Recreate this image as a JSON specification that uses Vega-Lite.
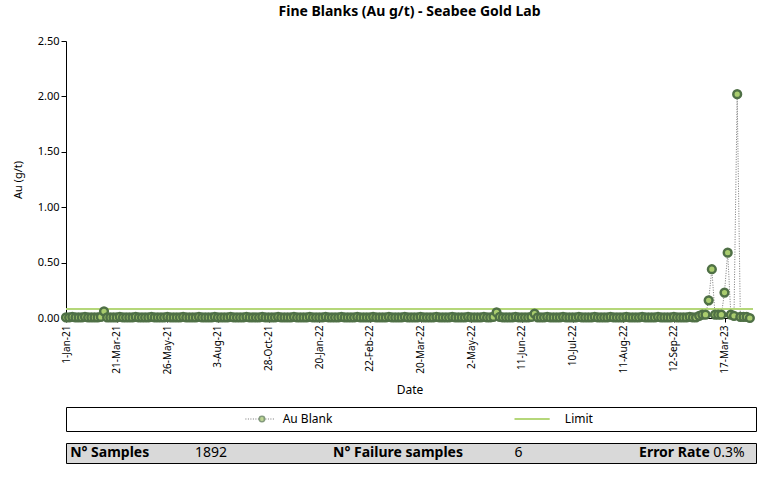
{
"$schema":"https://vega.github.io/schema/vega-lite/v6.json",
"background":"white",
"padding":{"left":12,"right":8,"top":5,"bottom":2},
"spacing":10,
"config":{"font":"Noto Sans","view":{"stroke":null},"axis":{"labelFont":"Noto Sans","titleFont":"Noto Sans","titleFontWeight":"normal","labelColor":"#000","titleColor":"#000","domainColor":"#000","tickColor":"#000"}},
"datasets":{
"blank":[
{"i":0,"v":0.005},{"i":1,"v":0.005},{"i":2,"v":0.01},{"i":3,"v":0.005},{"i":4,"v":0.005},{"i":5,"v":0.005},{"i":6,"v":0.01},{"i":7,"v":0.005},{"i":8,"v":0.005},{"i":9,"v":0.005},{"i":10,"v":0.005},{"i":11,"v":0.01},{"i":12,"v":0.06},{"i":13,"v":0.005},{"i":14,"v":0.005},{"i":15,"v":0.005},{"i":16,"v":0.005},{"i":17,"v":0.01},{"i":18,"v":0.005},{"i":19,"v":0.005},
{"i":20,"v":0.005},{"i":21,"v":0.005},{"i":22,"v":0.01},{"i":23,"v":0.005},{"i":24,"v":0.005},{"i":25,"v":0.005},{"i":26,"v":0.005},{"i":27,"v":0.01},{"i":28,"v":0.005},{"i":29,"v":0.005},{"i":30,"v":0.005},{"i":31,"v":0.005},{"i":32,"v":0.01},{"i":33,"v":0.005},{"i":34,"v":0.005},{"i":35,"v":0.005},{"i":36,"v":0.005},{"i":37,"v":0.01},{"i":38,"v":0.005},{"i":39,"v":0.005},
{"i":40,"v":0.005},{"i":41,"v":0.005},{"i":42,"v":0.01},{"i":43,"v":0.005},{"i":44,"v":0.005},{"i":45,"v":0.005},{"i":46,"v":0.005},{"i":47,"v":0.01},{"i":48,"v":0.005},{"i":49,"v":0.005},{"i":50,"v":0.005},{"i":51,"v":0.005},{"i":52,"v":0.01},{"i":53,"v":0.005},{"i":54,"v":0.005},{"i":55,"v":0.005},{"i":56,"v":0.005},{"i":57,"v":0.01},{"i":58,"v":0.005},{"i":59,"v":0.005},
{"i":60,"v":0.005},{"i":61,"v":0.005},{"i":62,"v":0.01},{"i":63,"v":0.005},{"i":64,"v":0.005},{"i":65,"v":0.005},{"i":66,"v":0.005},{"i":67,"v":0.01},{"i":68,"v":0.005},{"i":69,"v":0.005},{"i":70,"v":0.005},{"i":71,"v":0.005},{"i":72,"v":0.01},{"i":73,"v":0.005},{"i":74,"v":0.005},{"i":75,"v":0.005},{"i":76,"v":0.005},{"i":77,"v":0.01},{"i":78,"v":0.005},{"i":79,"v":0.005},
{"i":80,"v":0.005},{"i":81,"v":0.005},{"i":82,"v":0.01},{"i":83,"v":0.005},{"i":84,"v":0.005},{"i":85,"v":0.005},{"i":86,"v":0.005},{"i":87,"v":0.01},{"i":88,"v":0.005},{"i":89,"v":0.005},{"i":90,"v":0.005},{"i":91,"v":0.005},{"i":92,"v":0.01},{"i":93,"v":0.005},{"i":94,"v":0.005},{"i":95,"v":0.005},{"i":96,"v":0.005},{"i":97,"v":0.01},{"i":98,"v":0.005},{"i":99,"v":0.005},
{"i":100,"v":0.005},{"i":101,"v":0.005},{"i":102,"v":0.01},{"i":103,"v":0.005},{"i":104,"v":0.005},{"i":105,"v":0.005},{"i":106,"v":0.005},{"i":107,"v":0.01},{"i":108,"v":0.005},{"i":109,"v":0.005},{"i":110,"v":0.005},{"i":111,"v":0.005},{"i":112,"v":0.01},{"i":113,"v":0.005},{"i":114,"v":0.005},{"i":115,"v":0.005},{"i":116,"v":0.005},{"i":117,"v":0.01},{"i":118,"v":0.005},{"i":119,"v":0.005},
{"i":120,"v":0.005},{"i":121,"v":0.005},{"i":122,"v":0.01},{"i":123,"v":0.005},{"i":124,"v":0.005},{"i":125,"v":0.005},{"i":126,"v":0.005},{"i":127,"v":0.01},{"i":128,"v":0.005},{"i":129,"v":0.005},{"i":130,"v":0.005},{"i":131,"v":0.005},{"i":132,"v":0.01},{"i":133,"v":0.005},{"i":134,"v":0.005},{"i":135,"v":0.01},{"i":136,"v":0.05},{"i":137,"v":0.01},{"i":138,"v":0.005},{"i":139,"v":0.005},
{"i":140,"v":0.005},{"i":141,"v":0.005},{"i":142,"v":0.01},{"i":143,"v":0.005},{"i":144,"v":0.005},{"i":145,"v":0.005},{"i":146,"v":0.005},{"i":147,"v":0.01},{"i":148,"v":0.04},{"i":149,"v":0.005},{"i":150,"v":0.005},{"i":151,"v":0.005},{"i":152,"v":0.01},{"i":153,"v":0.005},{"i":154,"v":0.005},{"i":155,"v":0.005},{"i":156,"v":0.005},{"i":157,"v":0.01},{"i":158,"v":0.005},{"i":159,"v":0.005},
{"i":160,"v":0.005},{"i":161,"v":0.005},{"i":162,"v":0.01},{"i":163,"v":0.005},{"i":164,"v":0.005},{"i":165,"v":0.005},{"i":166,"v":0.005},{"i":167,"v":0.01},{"i":168,"v":0.005},{"i":169,"v":0.005},{"i":170,"v":0.005},{"i":171,"v":0.005},{"i":172,"v":0.01},{"i":173,"v":0.005},{"i":174,"v":0.005},{"i":175,"v":0.005},{"i":176,"v":0.005},{"i":177,"v":0.01},{"i":178,"v":0.005},{"i":179,"v":0.005},
{"i":180,"v":0.005},{"i":181,"v":0.005},{"i":182,"v":0.01},{"i":183,"v":0.005},{"i":184,"v":0.005},{"i":185,"v":0.005},{"i":186,"v":0.005},{"i":187,"v":0.01},{"i":188,"v":0.005},{"i":189,"v":0.005},{"i":190,"v":0.005},{"i":191,"v":0.005},{"i":192,"v":0.01},{"i":193,"v":0.005},{"i":194,"v":0.005},{"i":195,"v":0.005},{"i":196,"v":0.005},{"i":197,"v":0.01},{"i":198,"v":0.005},{"i":199,"v":0.005},
{"i":200,"v":0.02},{"i":201,"v":0.03},{"i":202,"v":0.03},{"i":203,"v":0.16},{"i":204,"v":0.44},{"i":205,"v":0.03},{"i":206,"v":0.03},{"i":207,"v":0.03},{"i":208,"v":0.23},{"i":209,"v":0.59},{"i":210,"v":0.03},{"i":211,"v":0.02},{"i":212,"v":2.02},{"i":213,"v":0.01},{"i":214,"v":0.01},{"i":215,"v":0.01},{"i":216,"v":0.0}
],
"legend":[{"name":"Au Blank","a":26,"b":30.3,"p":28.4,"t":31.4,"kind":"blank"},{"name":"Limit","a":65,"b":70.1,"p":67.5,"t":72.3,"kind":"limit"}],
"stats":[{"txt":"N° Samples","x":0.6,"kind":"label"},{"txt":"1892","x":18.7,"kind":"value"},{"txt":"N° Failure samples","x":38.7,"kind":"label"},{"txt":"6","x":65,"kind":"value"},{"txt":"Error Rate","x":93.3,"kind":"rlabel"},{"txt":"0.3%","x":93.8,"kind":"value"}]
},
"vconcat":[
{
"title":{"text":"Fine Blanks (Au g/t) - Seabee Gold Lab","fontSize":14,"fontWeight":"bold","font":"Noto Sans","offset":16},
"width":687,"height":277,
"data":{"name":"blank"},
"layer":[
{"mark":{"type":"line","color":"#777","strokeWidth":1,"strokeDash":[1,1.5]},
"encoding":{"x":{"field":"i","type":"quantitative","scale":{"domain":[0,217],"nice":false,"zero":false},
"axis":{"title":"Date","titleFontSize":12,"titlePadding":10,"labelAngle":-90,"labelFontSize":10,"labelPadding":3,"labelOverlap":false,"labelBound":false,"grid":false,"tickSize":4,
"values":[0,4,8,12,16,20,24,28,32,36,40,44,48,52,56,60,64,68,72,76,80,84,88,92,96,100,104,108,112,116,120,124,128,132,136,140,144,148,152,156,160,164,168,172,176,180,184,188,192,196,200,204,208,212,216],
"labelExpr":"['1-Jan-21','28-Jan-21','16-Feb-21','10-Mar-21','21-Mar-21','2-Apr-21','18-Apr-21','15-May-21','26-May-21','17-Jun-21','3-Jul-21','13-Jul-21','3-Aug-21','18-Aug-21','18-Sep-21','29-Sep-21','28-Oct-21','25-Nov-21','2-Jan-22','16-Jan-22','20-Jan-22','27-Jan-22','10-Feb-22','17-Feb-22','22-Feb-22','26-Feb-22','8-Mar-22','14-Mar-22','20-Mar-22','25-Mar-22','7-Apr-22','15-Apr-22','2-May-22','9-May-22','23-May-22','5-Jun-22','11-Jun-22','20-Jun-22','27-Jun-22','2-Jul-22','10-Jul-22','16-Jul-22','23-Jul-22','30-Jul-22','11-Aug-22','19-Aug-22','27-Aug-22','5-Sep-22','12-Sep-22','19-Sep-22','25-Sep-22','2-Oct-22','17-Mar-23','16-May-23','9-Jul-23'][round(datum.value/4)]"}},
"y":{"field":"v","type":"quantitative","scale":{"domain":[0,2.5],"nice":false},"axis":{"title":"Au (g/t)","titleFontSize":11,"titlePadding":14,"labelFontSize":11,"format":".2f","values":[0,0.5,1,1.5,2,2.5],"grid":false,"tickSize":5}}}},
{"mark":{"type":"rule","color":"#b5d77a","strokeWidth":1.8},"encoding":{"y":{"datum":0.08}}},
{"mark":{"type":"point","filled":true,"fill":"#a9cc6e","stroke":"#4f7046","strokeWidth":2.5,"size":60,"opacity":1},
"encoding":{"x":{"field":"i","type":"quantitative"},"y":{"field":"v","type":"quantitative"}}}
]
},
{
"width":690,"height":24,
"view":{"stroke":"#000","strokeWidth":1},
"data":{"name":"legend"},
"encoding":{"x":{"type":"quantitative","scale":{"domain":[0,100],"nice":false},"axis":null}},
"layer":[
{"transform":[{"filter":"datum.kind=='blank'"}],"mark":{"type":"rule","color":"#777","strokeDash":[1,1.5],"y":12},"encoding":{"x":{"field":"a","type":"quantitative"},"x2":{"field":"b"}}},
{"transform":[{"filter":"datum.kind=='limit'"}],"mark":{"type":"rule","color":"#b5d77a","strokeWidth":1.8,"y":12},"encoding":{"x":{"field":"a","type":"quantitative"},"x2":{"field":"b"}}},
{"transform":[{"filter":"datum.kind=='blank'"}],"mark":{"type":"point","filled":true,"fill":"#a9cc6e","stroke":"#4f7046","strokeWidth":1.5,"size":30,"y":12},"encoding":{"x":{"field":"p","type":"quantitative"}}},
{"mark":{"type":"text","align":"left","baseline":"middle","fontSize":12,"y":12,"color":"#000"},"encoding":{"x":{"field":"t","type":"quantitative"},"text":{"field":"name"}}}
]
},
{
"width":690,"height":20,
"view":{"stroke":"#000","strokeWidth":1,"fill":"#d9d9d9"},
"data":{"name":"stats"},
"encoding":{"x":{"field":"x","type":"quantitative","scale":{"domain":[0,100],"nice":false},"axis":null},"text":{"field":"txt"}},
"layer":[
{"transform":[{"filter":"datum.kind=='label'"}],"mark":{"type":"text","align":"left","baseline":"middle","y":10,"fontSize":14,"fontWeight":"bold","color":"#000"}},
{"transform":[{"filter":"datum.kind=='rlabel'"}],"mark":{"type":"text","align":"right","baseline":"middle","y":10,"fontSize":14,"fontWeight":"bold","color":"#000"}},
{"transform":[{"filter":"datum.kind=='value'"}],"mark":{"type":"text","align":"left","baseline":"middle","y":10,"fontSize":14,"color":"#000"}}
]
}
]
}
